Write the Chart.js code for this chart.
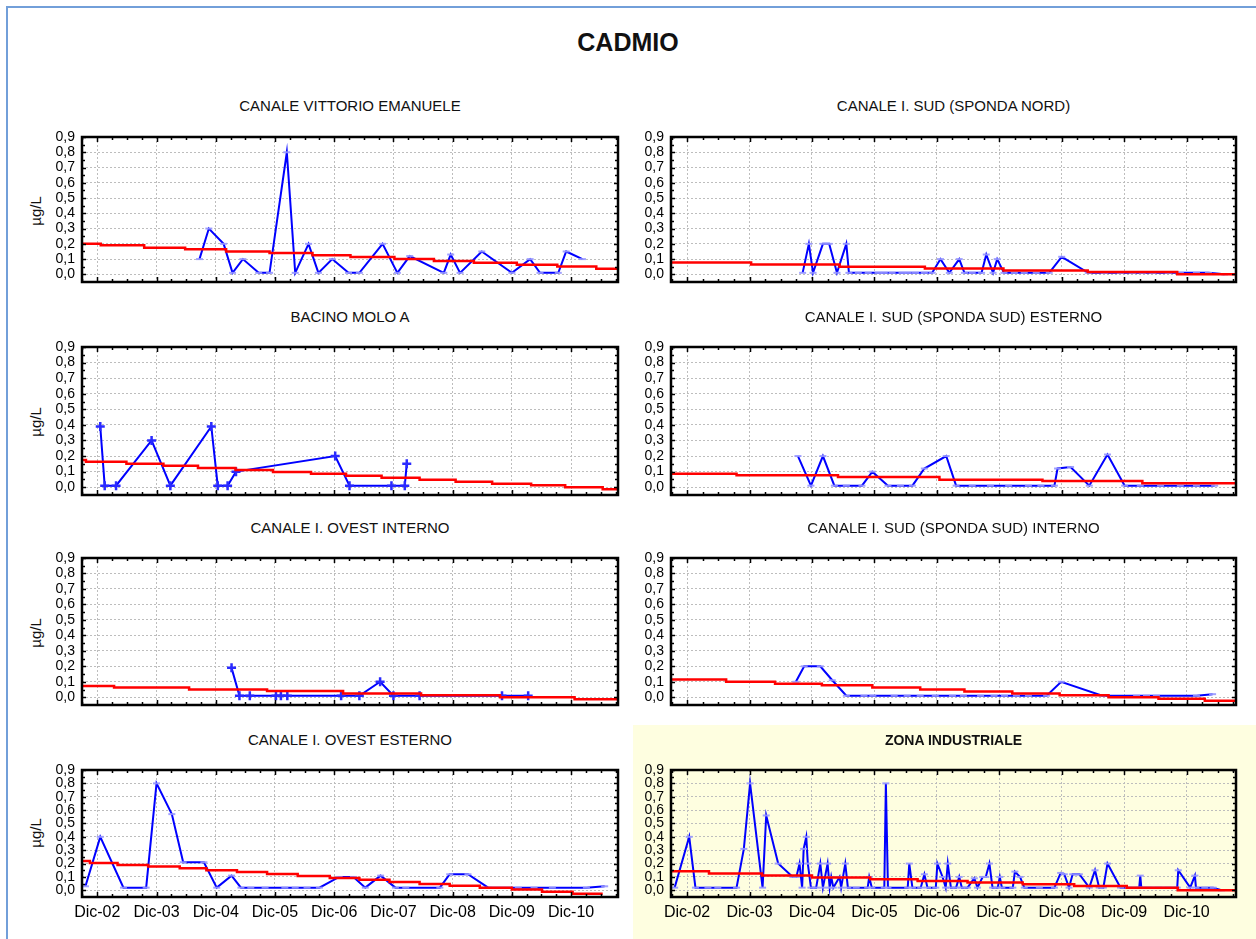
<!DOCTYPE html>
<html>
<head>
<meta charset="utf-8">
<script src="https://cdn.jsdelivr.net/npm/chart.js@4.4.0/dist/chart.umd.min.js"></script>
<style>
  html, body { margin: 0; padding: 0; background: #fff; overflow: hidden; }
  #page { position: relative; width: 1256px; height: 939px; overflow: hidden; font-family: "Liberation Sans", Arial, sans-serif; color: #111; }
  .outer { position: absolute; left: 6px; top: 6px; width: 1400px; height: 1100px; border: 2px solid #729fd9; }
  .zona-bg { position: absolute; left: 633px; top: 725px; width: 700px; height: 300px; background: #fefee0; }
  .main-title { position: absolute; left: 0; top: 27px; width: 1256px; text-align: center; font-weight: bold; font-size: 25px; line-height: 30px; }
  .sub { position: absolute; text-align: center; font-size: 15px; line-height: 18px; white-space: nowrap; }
  .sub.bold { font-weight: bold; font-size: 14px; }
  .unit { position: absolute; width: 60px; height: 20px; line-height: 20px; text-align: center; font-size: 15px; transform: rotate(-90deg); }
  canvas { position: absolute; }
</style>
</head>
<body>
<div id="page">
  <div class="outer"></div>
  <div class="zona-bg"></div>
  <div class="main-title">CADMIO</div>
</div>
<script>
// x values are months counted from December 2002
const tickMonths = [0, 12, 24, 36, 48, 60, 72, 84, 96];
const tickLabels = ['Dic-02', 'Dic-03', 'Dic-04', 'Dic-05', 'Dic-06', 'Dic-07', 'Dic-08', 'Dic-09', 'Dic-10'];
const yTickValues = [0, 0.1, 0.2, 0.3, 0.4, 0.5, 0.6, 0.7, 0.8, 0.9];

// CANALE VITTORIO EMANUELE
const vittorioMonths = [20.7, 22.6, 25.6, 27.4, 29.5, 32.7, 34.9, 38.4, 40.1, 42.8, 44.8, 47.6, 50.9, 53.1, 57.8, 60.8, 63.3, 70.2, 71.6, 73.5, 77.9, 84.0, 87.7, 89.7, 93.4, 95.0, 98.3];
const vittorioValues = [0.10, 0.30, 0.20, 0.01, 0.10, 0.01, 0.01, 0.80, 0.01, 0.20, 0.01, 0.10, 0.01, 0.01, 0.20, 0.01, 0.12, 0.01, 0.13, 0.01, 0.15, 0.01, 0.10, 0.01, 0.01, 0.15, 0.10];
const vittorioTrendMonths = [-3.1, 0.7, 9.5, 17.8, 26.1, 34.9, 43.6, 51.3, 60.2, 68.2, 76.3, 85.0, 93.2, 101.1, 105.5];
const vittorioTrendValues = [0.20, 0.19, 0.175, 0.165, 0.15, 0.14, 0.125, 0.113, 0.10, 0.088, 0.076, 0.063, 0.051, 0.037, 0.037];

// CANALE I. SUD (SPONDA NORD)
const sudNordMonths = [22.2, 23.4, 24.2, 26.1, 27.3, 28.8, 30.6, 31.1, 32.9, 34.8, 36.7, 37.9, 39.4, 41.3, 42.5, 43.9, 45.6, 47.1, 48.7, 50.4, 52.3, 53.3, 54.8, 56.6, 57.5, 58.8, 59.6, 60.9, 62.9, 64.8, 67.1, 69.6, 72.0, 77.1, 80.2, 83.3, 85.6, 87.5, 89.5, 92.5, 94.8, 97.9, 100.2, 103.3];
const sudNordValues = [0.01, 0.20, 0.01, 0.20, 0.20, 0.01, 0.20, 0.01, 0.01, 0.01, 0.01, 0.01, 0.01, 0.01, 0.01, 0.01, 0.01, 0.01, 0.10, 0.01, 0.10, 0.01, 0.01, 0.01, 0.13, 0.01, 0.10, 0.01, 0.01, 0.01, 0.01, 0.01, 0.115, 0.01, 0.01, 0.01, 0.01, 0.01, 0.01, 0.01, 0.01, 0.01, 0.01, 0.0];
const sudNordTrendMonths = [-3.1, 12.3, 29.3, 45.7, 60.8, 77.0, 94.2, 105.5];
const sudNordTrendValues = [0.077, 0.065, 0.05, 0.038, 0.025, 0.015, 0.0, 0.0];

// BACINO MOLO A
const moloMonths = [0.6, 1.5, 3.8, 11.0, 14.8, 23.1, 24.4, 26.4, 28.1, 48.2, 51.1, 59.6, 62.3, 62.7];
const moloValues = [0.39, 0.01, 0.01, 0.30, 0.01, 0.39, 0.01, 0.01, 0.10, 0.20, 0.01, 0.01, 0.01, 0.15];
const moloTrendMonths = [-3.1, -2.3, 5.9, 13.4, 20.4, 28.0, 35.6, 43.3, 50.4, 57.6, 65.3, 72.6, 80.0, 87.9, 94.8, 102.4, 105.5];
const moloTrendValues = [0.175, 0.163, 0.15, 0.138, 0.123, 0.11, 0.097, 0.086, 0.073, 0.06, 0.048, 0.035, 0.023, 0.012, 0.0, -0.013, -0.013];

// CANALE I. SUD (SPONDA SUD) ESTERNO
const sudEsternoMonths = [21.3, 23.8, 26.1, 28.3, 30.6, 33.6, 35.6, 38.6, 41.0, 43.3, 45.6, 49.8, 51.7, 54.8, 58.3, 61.8, 65.6, 68.0, 70.6, 71.2, 73.7, 77.3, 80.8, 84.1, 87.1, 91.0, 94.8, 97.9, 101.4];
const sudEsternoValues = [0.20, 0.01, 0.20, 0.01, 0.01, 0.01, 0.10, 0.01, 0.01, 0.01, 0.12, 0.20, 0.01, 0.01, 0.01, 0.01, 0.01, 0.01, 0.01, 0.12, 0.13, 0.01, 0.21, 0.01, 0.01, 0.01, 0.01, 0.01, 0.01];
const sudEsternoTrendMonths = [-3.1, 9.5, 29.0, 48.5, 68.3, 87.5, 105.5];
const sudEsternoTrendValues = [0.086, 0.076, 0.065, 0.048, 0.04, 0.025, 0.025];

// CANALE I. OVEST INTERNO
const ovestInternoMonths = [27.2, 28.8, 30.9, 36.2, 37.2, 38.5, 49.4, 53.1, 57.3, 60.0, 65.3, 82.0, 87.3];
const ovestInternoValues = [0.19, 0.01, 0.01, 0.01, 0.01, 0.01, 0.01, 0.01, 0.10, 0.01, 0.01, 0.01, 0.01];
const ovestInternoTrendMonths = [-3.1, 3.4, 18.6, 34.4, 49.8, 65.6, 81.6, 96.7, 105.5];
const ovestInternoTrendValues = [0.073, 0.063, 0.05, 0.04, 0.025, 0.0125, 0.0, -0.0125, -0.0125];

// CANALE I. SUD (SPONDA SUD) INTERNO
const sudInternoMonths = [20.9, 22.5, 25.6, 27.9, 30.6, 34.0, 35.7, 39.8, 42.3, 44.8, 47.7, 51.0, 53.1, 56.4, 59.0, 61.0, 63.3, 65.6, 69.1, 71.9, 79.8, 86.4, 88.3, 90.2, 97.9, 101.0];
const sudInternoValues = [0.10, 0.20, 0.20, 0.11, 0.01, 0.01, 0.01, 0.01, 0.01, 0.01, 0.01, 0.01, 0.01, 0.01, 0.01, 0.01, 0.01, 0.01, 0.01, 0.10, 0.01, 0.01, 0.01, 0.01, 0.01, 0.02];
const sudInternoTrendMonths = [-3.1, 7.5, 16.9, 25.9, 35.6, 44.8, 53.3, 62.5, 71.6, 81.0, 90.6, 99.5, 105.5];
const sudInternoTrendValues = [0.115, 0.10, 0.088, 0.077, 0.063, 0.05, 0.038, 0.025, 0.0125, 0.0, -0.01, -0.023, -0.023];

// CANALE I. OVEST ESTERNO
const ovestEsternoMonths = [-2.4, 0.6, 5.3, 9.9, 12.0, 15.1, 17.4, 21.6, 24.2, 27.2, 29.1, 31.1, 34.0, 38.0, 40.1, 42.5, 45.0, 49.0, 51.9, 54.3, 57.4, 60.4, 62.5, 69.4, 71.4, 75.1, 79.2, 85.3, 88.5, 92.2, 99.1, 102.8];
const ovestEsternoValues = [0.03, 0.40, 0.02, 0.02, 0.80, 0.57, 0.21, 0.21, 0.02, 0.11, 0.02, 0.02, 0.02, 0.02, 0.02, 0.02, 0.02, 0.10, 0.10, 0.02, 0.11, 0.02, 0.02, 0.02, 0.12, 0.12, 0.02, 0.02, 0.02, 0.02, 0.02, 0.03];
const ovestEsternoTrendMonths = [-3.1, -1.5, 4.1, 10.3, 16.7, 22.1, 28.3, 34.4, 40.6, 47.1, 53.1, 59.2, 65.3, 71.4, 77.5, 84.0, 90.1, 96.3, 102.4];
const ovestEsternoTrendValues = [0.22, 0.205, 0.19, 0.178, 0.165, 0.15, 0.137, 0.122, 0.108, 0.092, 0.079, 0.063, 0.048, 0.035, 0.02, 0.006, -0.01, -0.025, -0.025];

// ZONA INDUSTRIALE
const zonaMonths = [-2.4, 0.4, 1.6, 4.0, 5.9, 9.5, 10.9, 12.1, 14.5, 15.2, 17.5, 20.3, 21.0, 21.6, 22.1, 22.4, 22.9, 23.2, 23.8, 24.8, 25.6, 26.1, 27.0, 27.4, 27.7, 28.1, 29.3, 29.6, 30.4, 30.9, 32.5, 34.7, 35.0, 35.5, 37.9, 38.2, 38.6, 42.4, 42.7, 43.3, 44.9, 45.6, 46.2, 47.8, 48.1, 49.1, 49.7, 50.1, 50.7, 51.7, 52.3, 52.8, 53.9, 55.2, 55.8, 56.8, 57.4, 58.1, 58.7, 59.7, 60.1, 60.5, 62.6, 63.0, 64.0, 64.8, 67.7, 70.6, 71.8, 72.5, 73.4, 74.1, 75.4, 77.3, 78.4, 79.2, 80.0, 80.8, 83.3, 84.8, 86.9, 87.1, 87.3, 88.7, 90.6, 92.5, 94.2, 94.4, 96.7, 97.6, 97.8, 99.5, 101.1, 102.7];
const zonaValues = [0.02, 0.40, 0.02, 0.02, 0.02, 0.02, 0.31, 0.80, 0.02, 0.56, 0.20, 0.10, 0.10, 0.20, 0.02, 0.31, 0.40, 0.20, 0.02, 0.02, 0.20, 0.02, 0.20, 0.02, 0.10, 0.02, 0.10, 0.02, 0.20, 0.02, 0.02, 0.02, 0.10, 0.02, 0.02, 0.80, 0.02, 0.02, 0.20, 0.02, 0.02, 0.12, 0.02, 0.02, 0.20, 0.10, 0.02, 0.20, 0.02, 0.02, 0.10, 0.02, 0.02, 0.09, 0.02, 0.10, 0.10, 0.20, 0.02, 0.02, 0.10, 0.02, 0.02, 0.14, 0.10, 0.02, 0.02, 0.02, 0.13, 0.12, 0.02, 0.12, 0.12, 0.02, 0.15, 0.02, 0.02, 0.20, 0.02, 0.02, 0.02, 0.11, 0.02, 0.02, 0.02, 0.02, 0.02, 0.15, 0.02, 0.11, 0.02, 0.02, 0.02, 0.0];
const zonaTrendMonths = [-3.1, 4.2, 14.4, 24.0, 35.2, 44.3, 53.9, 64.5, 74.4, 84.5, 94.3, 105.5];
const zonaTrendValues = [0.142, 0.125, 0.11, 0.095, 0.082, 0.07, 0.058, 0.045, 0.033, 0.02, 0.0, 0.0];

const X_MIN = -3.1, X_MAX = 105.5, Y_MIN = -0.05, Y_MAX = 0.9;
const FONT = '"Liberation Sans", Arial, sans-serif';

// plot-area rectangles in page pixels
const columns = [{ left: 82, right: 618 }, { left: 671, right: 1236 }];
const rows = [
  { top: 135, bottom: 286, subY: 106 },
  { top: 345, bottom: 499, subY: 317 },
  { top: 556, bottom: 709, subY: 528 },
  { top: 768, bottom: 897, subY: 740 }
];

const panels = [
  { title: 'CANALE VITTORIO EMANUELE', col: 0, row: 0, months: vittorioMonths, values: vittorioValues, trendMonths: vittorioTrendMonths, trendValues: vittorioTrendValues, marker: 'light' },
  { title: 'CANALE I. SUD (SPONDA NORD)', col: 1, row: 0, months: sudNordMonths, values: sudNordValues, trendMonths: sudNordTrendMonths, trendValues: sudNordTrendValues, marker: 'light' },
  { title: 'BACINO MOLO A', col: 0, row: 1, months: moloMonths, values: moloValues, trendMonths: moloTrendMonths, trendValues: moloTrendValues, marker: 'bold' },
  { title: 'CANALE I. SUD (SPONDA SUD) ESTERNO', col: 1, row: 1, months: sudEsternoMonths, values: sudEsternoValues, trendMonths: sudEsternoTrendMonths, trendValues: sudEsternoTrendValues, marker: 'light' },
  { title: 'CANALE I. OVEST INTERNO', col: 0, row: 2, months: ovestInternoMonths, values: ovestInternoValues, trendMonths: ovestInternoTrendMonths, trendValues: ovestInternoTrendValues, marker: 'bold' },
  { title: 'CANALE I. SUD (SPONDA SUD) INTERNO', col: 1, row: 2, months: sudInternoMonths, values: sudInternoValues, trendMonths: sudInternoTrendMonths, trendValues: sudInternoTrendValues, marker: 'light' },
  { title: 'CANALE I. OVEST ESTERNO', col: 0, row: 3, months: ovestEsternoMonths, values: ovestEsternoValues, trendMonths: ovestEsternoTrendMonths, trendValues: ovestEsternoTrendValues, marker: 'light' },
  { title: 'ZONA INDUSTRIALE', col: 1, row: 3, months: zonaMonths, values: zonaValues, trendMonths: zonaTrendMonths, trendValues: zonaTrendValues, marker: 'light', boldTitle: true }
];

// black frame with small inward tick marks, like the original plot boxes
const framePlugin = {
  id: 'frame',
  afterDraw(chart) {
    const { ctx, chartArea: a, scales: { x, y } } = chart;
    ctx.save();
    ctx.strokeStyle = '#000';
    ctx.lineWidth = 1.5;
    ctx.beginPath();
    for (let m = -3; m <= X_MAX; m += 3) {
      const px = Math.round(x.getPixelForValue(m)) + 0.5;
      const len = m % 12 === 0 ? 5 : 3;
      ctx.moveTo(px, a.top); ctx.lineTo(px, a.top + len);
      ctx.moveTo(px, a.bottom); ctx.lineTo(px, a.bottom - len);
    }
    for (let k = 0; k <= 18; k++) {
      const py = Math.round(y.getPixelForValue(k * 0.05)) + 0.5;
      const len = k % 2 === 0 ? 4 : 3;
      ctx.moveTo(a.left, py); ctx.lineTo(a.left + len, py);
      ctx.moveTo(a.right, py); ctx.lineTo(a.right - len, py);
    }
    ctx.stroke();
    ctx.lineWidth = 2.5;
    ctx.strokeRect(a.left, a.top, a.right - a.left, a.bottom - a.top);
    ctx.restore();
  }
};

function points(months, values) {
  return months.map((m, i) => ({ x: m, y: values[i] }));
}

const page = document.getElementById('page');

panels.forEach(p => {
  const col = columns[p.col];
  const row = rows[p.row];
  const isBottom = p.row === rows.length - 1;
  const yAxisWidth = 60;
  const xAxisHeight = isBottom ? 34 : 0;
  const padTop = 12, padRight = 12, padBottom = isBottom ? 0 : 10;

  const sub = document.createElement('div');
  sub.className = 'sub' + (p.boldTitle ? ' bold' : '');
  sub.textContent = p.title;
  sub.style.left = col.left + 'px';
  sub.style.width = (col.right - col.left) + 'px';
  sub.style.top = (row.subY - 9) + 'px';
  page.appendChild(sub);

  if (p.col === 0) {
    const unit = document.createElement('div');
    unit.className = 'unit';
    unit.textContent = 'µg/L';
    unit.style.left = (36 - 30) + 'px';
    unit.style.top = ((row.top + row.bottom) / 2 - 10) + 'px';
    page.appendChild(unit);
  }

  const canvas = document.createElement('canvas');
  const w = col.right - col.left + yAxisWidth + padRight;
  const h = row.bottom - row.top + padTop + padBottom + xAxisHeight;
  canvas.width = w;
  canvas.height = h;
  canvas.style.width = w + 'px';
  canvas.style.height = h + 'px';
  canvas.style.left = (col.left - yAxisWidth) + 'px';
  canvas.style.top = (row.top - padTop) + 'px';
  page.appendChild(canvas);

  const markerOpts = p.marker === 'bold'
    ? { pointStyle: 'cross', pointRadius: 4.5, pointBorderWidth: 2.5, pointBorderColor: '#2a2aff', pointBackgroundColor: '#2a2aff' }
    : { pointStyle: 'line', pointRadius: 3.5, pointBorderWidth: 2, pointBorderColor: 'rgba(150,150,255,0.9)', pointBackgroundColor: 'rgba(150,150,255,0.9)' };

  new Chart(canvas, {
    type: 'line',
    data: {
      datasets: [
        {
          data: points(p.trendMonths, p.trendValues),
          borderColor: '#ff0000',
          borderWidth: 2.5,
          stepped: true,
          pointRadius: 0
        },
        Object.assign({
          data: points(p.months, p.values),
          borderColor: '#0000ff',
          borderWidth: 2,
          tension: 0
        }, markerOpts)
      ]
    },
    options: {
      responsive: false,
      animation: false,
      events: [],
      layout: { padding: { left: 0, top: padTop, right: padRight, bottom: padBottom } },
      plugins: { legend: { display: false }, tooltip: { enabled: false } },
      scales: {
        x: {
          type: 'linear',
          min: X_MIN,
          max: X_MAX,
          afterBuildTicks: s => { s.ticks = tickMonths.map(v => ({ value: v })); },
          afterFit: s => { s.height = xAxisHeight; },
          ticks: {
            display: isBottom,
            autoSkip: false,
            maxRotation: 0,
            padding: 6,
            color: '#000',
            font: { family: FONT, size: 16 },
            callback: (v, i) => tickLabels[i]
          },
          grid: { color: '#bdbdbd', lineWidth: 1, drawTicks: false },
          border: { display: false, dash: [2, 2] }
        },
        y: {
          type: 'linear',
          min: Y_MIN,
          max: Y_MAX,
          afterBuildTicks: s => { s.ticks = yTickValues.map(v => ({ value: v })); },
          afterFit: s => { s.width = yAxisWidth; },
          ticks: {
            autoSkip: false,
            padding: 7,
            color: '#000',
            font: { family: FONT, size: 14, lineHeight: 1 },
            callback: v => v.toFixed(1).replace('.', ',')
          },
          grid: { color: '#bdbdbd', lineWidth: 1, drawTicks: false },
          border: { display: false, dash: [2, 2] }
        }
      }
    },
    plugins: [framePlugin]
  });
});
</script>
</body>
</html>
